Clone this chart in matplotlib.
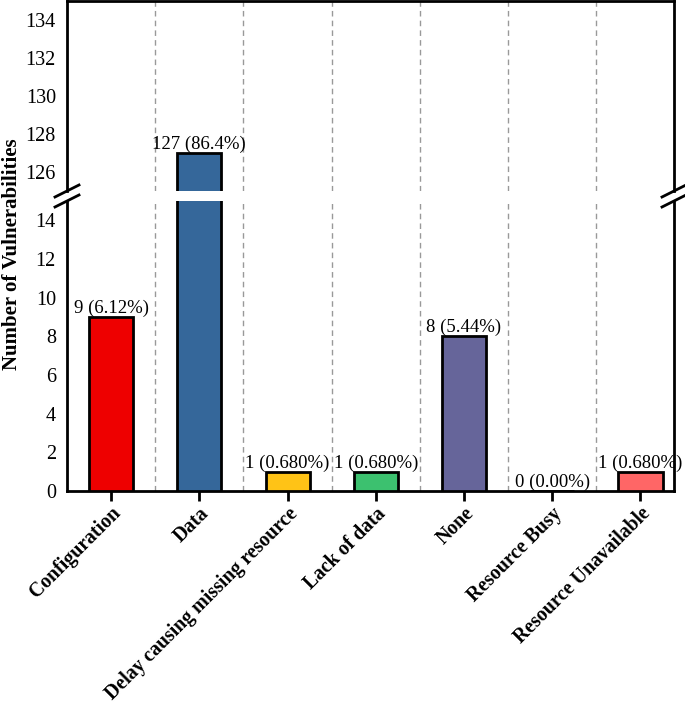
import numpy as np
import matplotlib
matplotlib.use("Agg")
import matplotlib.pyplot as plt

plt.rcParams['font.family'] = ['Liberation Serif', 'DejaVu Serif']

categories = ['Configuration', 'Data', 'Delay causing missing resource',
              'Lack of data', 'None', 'Resource Busy', 'Resource Unavailable']
counts = [9, 127, 1, 1, 8, 0, 1]
percents = ['6.12%', '86.4%', '0.680%', '0.680%', '5.44%', '0.00%', '0.680%']
colors = ['#EE0000', '#35679A', '#FFC316', '#3CC16F', '#66659A', '#FFFFFF', '#FF6666']

fig = plt.figure(figsize=(6.85, 7.06), dpi=100)
L, R = 67 / 685, 674 / 685
ax_top = fig.add_axes([L, 1 - 191 / 706, R - L, 190 / 706])
ax_bot = fig.add_axes([L, 1 - 491 / 706, R - L, 290 / 706])

x = np.arange(len(categories))
for ax in (ax_top, ax_bot):
    ax.bar(x, counts, width=0.5, color=colors, edgecolor='black', linewidth=2, zorder=3)
    for xi in x[:-1] + 0.5:
        ax.axvline(xi, color='#999999', linestyle=(0, (4, 3)), linewidth=1, zorder=1)
    ax.set_xlim(-0.5, 6.38)
    for s in ax.spines.values():
        s.set_linewidth(2)
    ax.tick_params(axis='y', length=0, pad=8, labelsize=14.5)

ax_top.set_ylim(125, 135)
ax_top.set_yticks(np.arange(126, 135, 2))
ax_top.spines['bottom'].set_visible(False)
ax_top.tick_params(axis='x', bottom=False, labelbottom=False)

ax_bot.set_ylim(0, 15)
ax_bot.set_yticks(np.arange(0, 15, 2))
ax_bot.spines['top'].set_visible(False)
ax_bot.set_xticks(x)
ax_bot.set_xticklabels(categories, rotation=45, ha='right', rotation_mode='anchor',
                       fontsize=14.2, fontweight='bold')
ax_bot.tick_params(axis='x', length=7, width=2, pad=2)

for xi, c, p in zip(x, counts, percents):
    ax = ax_top if c > 15 else ax_bot
    ax.annotate(f'{c} ({p})', (xi, c), xytext=(0, 0), textcoords='offset points',
                ha='center', va='bottom', fontsize=13.5, zorder=4)

# break marks
yb = 1 - 196 / 706
for xf in (L, R):
    for dy in (-5, 5):
        fig.add_artist(plt.Line2D([xf - 12 / 685, xf + 12 / 685],
                                  [yb + (dy - 6) / 706, yb + (dy + 6) / 706],
                                  color='black', linewidth=2))

fig.text(12 / 685, 1 - 254 / 706, 'Number of Vulnerabilities', rotation=90,
         ha='center', va='center', fontsize=15, fontweight='bold')

fig.savefig('out.png', dpi=100)
